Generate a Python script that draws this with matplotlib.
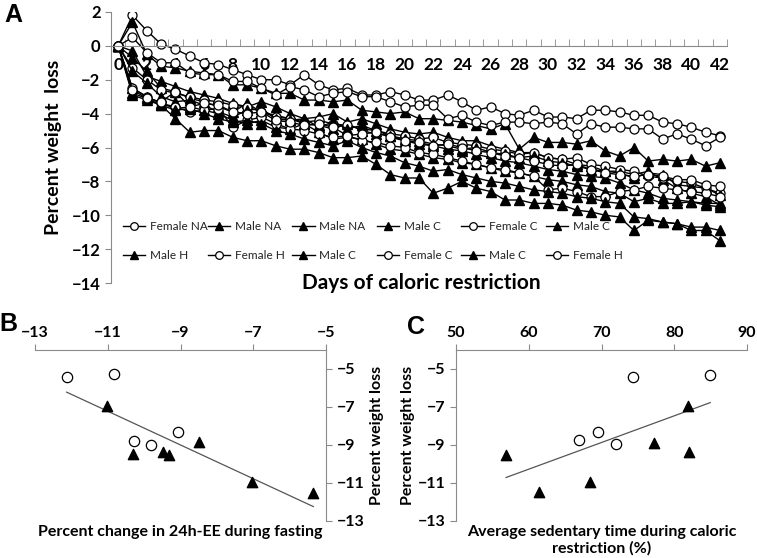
import matplotlib.pyplot as plt
import matplotlib.ticker as mticker
from matplotlib.legend import Legend
import numpy as np

days = list(range(0, 43))

# panel A, percent weight loss per day (one list per subject)
female_na = [0, 1.8, 0.9, 0.1, -0.2, -0.6, -1.0, -1.1, -1.4, -1.7, -2.0,
             -2.0, -2.3, -1.7, -2.3, -2.6, -2.5, -2.9, -2.9, -2.7, -2.9,
             -3.2, -3.2, -2.9, -3.3, -3.8, -3.6, -4.0, -4.1, -3.8, -4.2,
             -4.2, -4.3, -3.8, -3.8, -3.9, -4.1, -4.1, -4.5, -4.6, -4.8,
             -5.1, -5.3]
male_na_1 = [0, -0.3, -1.8, -2.1, -2.4, -2.7, -2.9, -3.1, -3.4, -3.6, -3.3,
             -3.6, -4.0, -4.3, -4.2, -4.0, -4.5, -4.3, -4.6, -4.9, -5.1,
             -5.2, -5.1, -5.4, -5.6, -5.6, -5.9, -6.1, -6.3, -6.3, -6.6,
             -6.7, -7.0, -7.1, -7.4, -7.4, -7.6, -7.4, -7.9, -8.4, -8.7,
             -8.9, -9.4]
male_na_2 = [0, -0.7, -1.5, -2.5, -2.7, -3.1, -3.3, -3.6, -3.9, -3.4, -3.9,
             -4.1, -4.3, -4.6, -4.7, -4.9, -4.6, -5.0, -5.2, -5.3, -5.6,
             -5.8, -5.9, -6.1, -6.2, -6.4, -6.6, -6.8, -6.9, -7.1, -7.3,
             -7.4, -7.6, -7.7, -7.8, -8.1, -8.5, -8.7, -9.0, -9.1, -9.2,
             -9.3, -9.3]
male_c_1 = [0, 1.4, -0.5, -1.2, -1.3, -1.5, -1.6, -1.7, -2.3, -2.3, -2.5,
            -2.8, -2.8, -3.2, -3.2, -3.3, -3.2, -3.8, -3.9, -4.0, -3.9,
            -4.3, -4.3, -4.4, -4.5, -4.7, -4.9, -4.6, -6.1, -5.4, -5.7,
            -5.7, -5.8, -5.6, -6.2, -6.5, -6.0, -6.8, -6.7, -6.8, -6.7,
            -7.1, -6.9]
female_c_1 = [0, -1.3, -2.0, -2.6, -2.8, -3.0, -3.2, -3.3, -3.5, -3.6, -3.9,
              -4.2, -4.3, -4.5, -4.4, -4.6, -4.7, -4.9, -5.0, -5.2, -5.3,
              -5.5, -5.4, -5.7, -5.8, -5.9, -6.1, -6.2, -6.4, -6.3, -6.6,
              -6.7, -6.6, -7.0, -7.1, -7.3, -7.4, -7.7, -7.8, -8.0, -8.1,
              -8.4, -8.7]
male_c_2 = [0, -2.5, -3.0, -3.4, -3.7, -3.6, -3.8, -4.0, -4.4, -4.6, -4.4,
            -4.8, -4.9, -4.6, -5.1, -5.5, -5.4, -5.5, -5.8, -6.1, -6.2,
            -6.4, -6.6, -6.7, -6.9, -7.0, -7.2, -7.4, -7.5, -7.7, -7.9,
            -8.0, -8.2, -8.3, -8.6, -8.7, -9.2, -9.0, -9.3, -9.3, -9.2,
            -9.4, -9.5]
male_h = [0, -2.9, -3.2, -3.5, -4.3, -5.1, -5.0, -5.0, -5.4, -5.6, -5.6,
          -5.9, -6.1, -6.1, -6.3, -6.6, -6.6, -6.5, -7.0, -7.6, -7.8,
          -7.8, -8.7, -8.4, -8.0, -8.4, -8.6, -9.1, -9.1, -9.3, -9.3,
          -9.4, -9.7, -9.8, -10.0, -10.1, -10.9, -10.3, -10.4, -10.5, -10.9,
          -10.9, -11.5]
female_h_1 = [0, 0.5, -0.4, -1.0, -1.0, -1.6, -1.7, -1.7, -2.1, -2.1, -2.5,
              -2.9, -2.4, -2.6, -3.0, -2.8, -2.7, -3.0, -3.0, -3.3, -3.6,
              -3.5, -3.5, -4.3, -4.1, -4.5, -4.7, -4.5, -4.5, -4.6, -4.5,
              -4.6, -5.2, -4.6, -4.8, -4.8, -4.9, -4.9, -5.5, -5.2, -5.5,
              -5.9, -5.4]
male_c_3 = [0, -1.5, -2.2, -3.0, -3.3, -3.2, -3.5, -3.9, -4.2, -3.8, -3.7,
            -4.3, -4.4, -4.3, -4.8, -4.5, -4.9, -4.7, -5.0, -5.3, -5.5,
            -5.6, -5.8, -5.9, -6.1, -6.0, -6.3, -6.4, -6.6, -6.5, -6.8,
            -6.9, -7.1, -7.3, -7.4, -7.5, -7.8, -7.5, -7.6, -8.2, -8.3,
            -8.4, -8.8]
female_c_2 = [0, -2.5, -3.0, -3.4, -3.6, -3.9, -3.8, -3.7, -4.8, -4.4, -4.2,
              -4.6, -4.9, -5.0, -5.2, -5.4, -5.3, -5.6, -5.7, -5.9, -6.0,
              -6.3, -6.4, -6.6, -6.8, -7.0, -7.2, -7.3, -7.5, -7.7, -8.5,
              -8.4, -8.6, -8.9, -8.9, -8.6, -8.5, -8.3, -8.4, -8.5, -8.6,
              -8.7, -8.9]
male_c_4 = [0, -2.8, -3.1, -3.5, -3.8, -3.7, -4.0, -4.3, -4.5, -4.4, -4.6,
            -5.0, -5.2, -5.5, -5.7, -5.9, -5.6, -6.0, -6.3, -6.5, -6.9,
            -7.1, -7.4, -7.3, -7.6, -7.8, -8.0, -8.1, -8.3, -8.5, -8.6,
            -8.7, -8.9, -9.0, -9.2, -9.3, -10.1, -10.2, -10.4, -10.5, -10.7,
            -10.7, -10.9]
female_h_2 = [0, -2.6, -3.1, -3.3, -2.7, -3.6, -3.4, -3.5, -3.9, -4.0, -3.9,
              -4.4, -4.5, -4.7, -4.6, -4.8, -5.3, -5.2, -5.1, -5.4, -5.6,
              -5.7, -5.9, -5.8, -6.0, -6.2, -6.3, -6.5, -6.6, -6.8, -7.0,
              -7.1, -7.0, -7.3, -7.5, -7.6, -7.7, -7.6, -7.7, -7.9, -7.9,
              -8.2, -8.3]

series = [female_na, male_na_1, male_na_2, male_c_1, female_c_1, male_c_2,
          male_h, female_h_1, male_c_3, female_c_2, male_c_4, female_h_2]
names = ["Female NA", "Male NA", "Male NA", "Male C", "Female C", "Male C",
         "Male H", "Female H", "Male C", "Female C", "Male C", "Female H"]

# panels B and C
ee_female = [-12.13, -10.82, -10.28, -9.81, -9.08]
wl_female_b = [-5.40, -5.26, -8.79, -8.98, -8.34]
ee_male = [-11.01, -10.31, -9.49, -9.32, -8.48, -7.04, -5.35]
wl_male_b = [-6.94, -9.45, -9.38, -9.54, -8.86, -10.97, -11.52]

sed_female = [74.27, 84.95, 66.88, 71.93, 69.5]
wl_female_c = [-5.44, -5.31, -8.76, -8.97, -8.32]
sed_male = [81.83, 56.88, 61.38, 68.44, 77.2, 81.97]
wl_male_c = [-6.97, -9.54, -11.48, -10.96, -8.88, -9.38]

plt.rcParams['font.family'] = ['Lato', 'DejaVu Sans']
grey = '#8a8a8a'
W, H = 757, 558

fig = plt.figure(figsize=(W / 100, H / 100), dpi=100)

def box(x0, y0, x1, y1):
    # pixel box -> figure fraction
    return [x0 / W, 1 - y1 / H, (x1 - x0) / W, (y1 - y0) / H]

# ---------------- A
ax = fig.add_axes(box(111, 12, 727, 283))
ax.set_axisbelow(True)
for s, n in zip(series, names):
    if n.startswith("Female"):
        ax.plot(days, s, color='black', lw=1.0, marker='o', ms=6.5,
                mfc='white', mec='black', mew=0.9, label=n)
    else:
        ax.plot(days, s, color='black', lw=1.0, marker='^', ms=6.5,
                mfc='black', mec='black', label=n)
ax.set_xlim(-0.5, 42.5)
ax.set_ylim(-14, 2)
ax.spines['top'].set_visible(False)
ax.spines['right'].set_visible(False)
ax.spines['bottom'].set_position(('data', 0))
ax.spines['bottom'].set_color(grey)
ax.spines['left'].set_color(grey)
ax.set_xticks(range(0, 43, 2))
ax.xaxis.set_minor_locator(mticker.FixedLocator(np.arange(-0.5, 43, 1)))
ax.tick_params(axis='x', which='major', length=0, pad=8, labelsize=12.5)
ax.tick_params(axis='x', which='minor', direction='in', length=5, color=grey)
ax.set_yticks(range(-14, 3, 2))
ax.tick_params(axis='y', direction='out', length=4, color=grey, labelsize=12)
for t in ax.get_xticklabels() + ax.get_yticklabels():
    t.set_fontweight('bold')
ax.set_ylabel("Percent weight  loss", fontsize=14, fontweight='bold', labelpad=7)
fig.text(421 / W, 1 - 283 / H, "Days of caloric restriction", fontsize=15,
         fontweight='bold', ha='center', va='center')

handles, labels = ax.get_legend_handles_labels()
for c in range(6):
    leg = Legend(ax, [handles[c], handles[c + 6]], [labels[c], labels[c + 6]],
                 loc='upper left',
                 bbox_to_anchor=((123 - 111 + c * 84.6) / 616, (283 - 221) / 271),
                 frameon=False, fontsize=8.5, handlelength=1.9, handletextpad=0.4,
                 labelspacing=1.55, borderpad=0, borderaxespad=0, numpoints=1)
    for ln in leg.get_lines():
        ln.set_markersize(5.5)
    for t in leg.get_texts():
        t.set_color('#222222')
    ax.add_artist(leg)

fig.text(13 / W, 1 - 15 / H, "A", fontsize=18, fontweight='bold',
         family='Liberation Sans', ha='center', va='center')

# ---------------- B
axb = fig.add_axes(box(35, 350, 326, 521))
axb.scatter(ee_female, wl_female_b, s=55, marker='o', facecolors='white',
            edgecolors='black', linewidths=0.9, zorder=3)
axb.scatter(ee_male, wl_male_b, s=55, marker='^', color='black', zorder=3)
bx = np.array(ee_female + ee_male)
by = np.array(wl_female_b + wl_male_b)
k, b0 = np.polyfit(bx, by, 1)
xs = np.array([bx.min(), bx.max()])
axb.plot(xs, k * xs + b0, color='#555555', lw=0.9)
axb.set_xlim(-13, -5)
axb.set_ylim(-13, -4)
axb.spines['bottom'].set_visible(False)
axb.spines['left'].set_visible(False)
axb.spines['top'].set_color(grey)
axb.spines['right'].set_color(grey)
axb.xaxis.tick_top()
axb.yaxis.tick_right()
axb.set_xticks(range(-13, -4, 2))
axb.set_yticks(range(-13, -4, 2))
axb.tick_params(direction='out', length=4, color=grey, labelsize=11.5)
for t in axb.get_xticklabels() + axb.get_yticklabels():
    t.set_fontweight('bold')
axb.set_xlabel("Percent change in 24h-EE during fasting", fontsize=11.5,
               fontweight='bold', labelpad=3)
axb.xaxis.set_label_position('bottom')
axb.yaxis.set_label_position('right')
axb.set_ylabel("Percent weight loss", fontsize=11.5, fontweight='bold', labelpad=4)
fig.text(8 / W, 1 - 324 / H, "B", fontsize=18, fontweight='bold',
         family='Liberation Sans', ha='center', va='center')

# ---------------- C
axc = fig.add_axes(box(456, 350, 747, 521))
axc.scatter(sed_female, wl_female_c, s=55, marker='o', facecolors='white',
            edgecolors='black', linewidths=0.9, zorder=3)
axc.scatter(sed_male, wl_male_c, s=55, marker='^', color='black', zorder=3)
cx = np.array(sed_female + sed_male)
cy = np.array(wl_female_c + wl_male_c)
k, b0 = np.polyfit(cx, cy, 1)
xs = np.array([cx.min(), cx.max()])
axc.plot(xs, k * xs + b0, color='#555555', lw=0.9)
axc.set_xlim(50, 90)
axc.set_ylim(-13, -4)
axc.spines['bottom'].set_visible(False)
axc.spines['right'].set_visible(False)
axc.spines['top'].set_color(grey)
axc.spines['left'].set_color(grey)
axc.xaxis.tick_top()
axc.set_xticks(range(50, 91, 10))
axc.set_yticks(range(-13, -4, 2))
axc.tick_params(direction='out', length=4, color=grey, labelsize=11.5)
for t in axc.get_xticklabels() + axc.get_yticklabels():
    t.set_fontweight('bold')
axc.set_xlabel("Average sedentary time during caloric\nrestriction (%)",
               fontsize=11.5, fontweight='bold', labelpad=3, linespacing=1.2)
axc.xaxis.set_label_position('bottom')
axc.set_ylabel("Percent weight loss", fontsize=11.5, fontweight='bold', labelpad=2)
fig.text(416 / W, 1 - 327 / H, "C", fontsize=18, fontweight='bold',
         family='Liberation Sans', ha='center', va='center')

fig.savefig("out.png", dpi=100)
